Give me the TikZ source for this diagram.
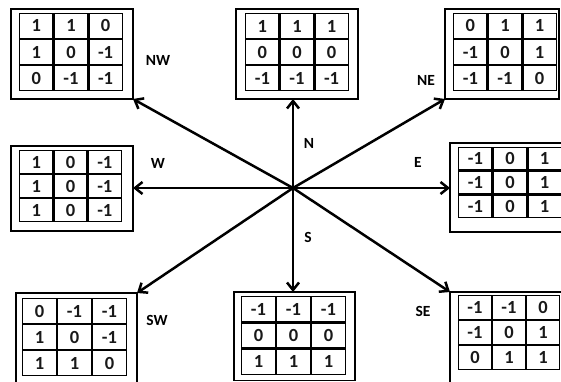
\documentclass[tikz,border=0pt]{standalone}
\usepackage{fontspec}
\setmainfont{Carlito}
\usetikzlibrary{arrows.meta,matrix}
\tikzset{
  kbox/.style 2 args={draw, line width=1.1pt, inner sep=0pt, outer sep=0pt,
    minimum width=#1, minimum height=#2},
  kmat/.style 2 args={matrix of nodes, inner sep=0pt, outer sep=0pt,
    column sep=0pt, row sep=0pt,
    nodes={draw, line width=1.3pt, minimum width=#1, minimum height=#2,
      inner sep=0pt, outer sep=0pt, text=black!90,
      font=\fontsize{18.5}{18.5}\selectfont\bfseries}},
  dirlabel/.style={font=\fontsize{15.5}{15.5}\selectfont\bfseries, inner sep=0pt},
  ray/.style={line width=2.5pt, -{Straight Barb[length=7.5pt,width=12pt]}},
}
\begin{document}
\begin{tikzpicture}[x=1pt, y=-1pt]
  \useasboundingbox (0,0) rectangle (561,382);

  % centre of the compass
  \coordinate (c) at (293,188);

  % outer frames
  \node[kbox={122pt}{90pt}]   (nwbox) at (72,54) {};
  \node[kbox={122pt}{90pt}]   (nbox)  at (297,54) {};
  \node[kbox={114pt}{90pt}]   (nebox) at (502,54) {};
  \node[kbox={122pt}{85pt}]   (wbox)  at (72,188.5) {};
  \node[kbox={116pt}{89pt}]   (ebox)  at (508,187.5) {};
  \node[kbox={121pt}{99pt}]   (swbox) at (76.5,342.5) {};
  \node[kbox={121pt}{88.5pt}] (sbox)  at (294.5,336.25) {};
  \node[kbox={116pt}{100pt}]  (sebox) at (508,342) {};

  % kernels
  \matrix (nwm) [kmat={33.3pt}{24.7pt}] at (71,52) {
    1 & 1 & 0 \\ 1 & 0 & -1 \\ 0 & -1 & -1 \\ };
  \matrix (nm) [kmat={33.3pt}{24.7pt}] at (297,52) {
    1 & 1 & 1 \\ 0 & 0 & 0 \\ -1 & -1 & -1 \\ };
  \matrix (nem) [kmat={33.3pt}{24.7pt}] at (505,52) {
    0 & 1 & 1 \\ -1 & 0 & 1 \\ -1 & -1 & 0 \\ };
  \matrix (wm) [kmat={33pt}{22.7pt}] at (70.5,186) {
    1 & 0 & -1 \\ 1 & 0 & -1 \\ 1 & 0 & -1 \\ };
  \matrix (em) [kmat={33.3pt}{22.3pt}] at (510,182.5) {
    -1 & 0 & 1 \\ -1 & 0 & 1 \\ -1 & 0 & 1 \\ };
  \matrix (swm) [kmat={33.7pt}{24.7pt}] at (74.5,337) {
    0 & -1 & -1 \\ 1 & 0 & -1 \\ 1 & 1 & 0 \\ };
  \matrix (sm) [kmat={33.7pt}{25pt}] at (293.5,335.5) {
    -1 & -1 & -1 \\ 0 & 0 & 0 \\ 1 & 1 & 1 \\ };
  \matrix (sem) [kmat={32.7pt}{23.7pt}] at (509,332.5) {
    -1 & -1 & 0 \\ -1 & 0 & 1 \\ 0 & 1 & 1 \\ };

  % direction rays
  \draw[ray] (c) -- (nwbox.south east);
  \draw[ray] (c) -- (c |- nbox.south);
  \draw[ray] (c) -- (nebox.south west);
  \draw[ray] (c) -- (c -| wbox.east);
  \draw[ray] (c) -- (c -| ebox.west);
  \draw[ray] (c) -- (swbox.north east);
  \draw[ray] (c) -- (c |- sbox.north);
  \draw[ray] (c) -- (sebox.north west);

  % direction names
  \node[dirlabel] (lnw) at (158,60)  {NW};
  \node[dirlabel] (ln)  at (309,143) {N};
  \node[dirlabel] (lne) at (426,80)  {NE};
  \node[dirlabel] (lw)  at (158,163) {W};
  \node[dirlabel] (le)  at (418,162) {E};
  \node[dirlabel] (lsw) at (157,320) {SW};
  \node[dirlabel] (ls)  at (308,237) {S};
  \node[dirlabel] (lse) at (423,311) {SE};
\end{tikzpicture}
\end{document}
